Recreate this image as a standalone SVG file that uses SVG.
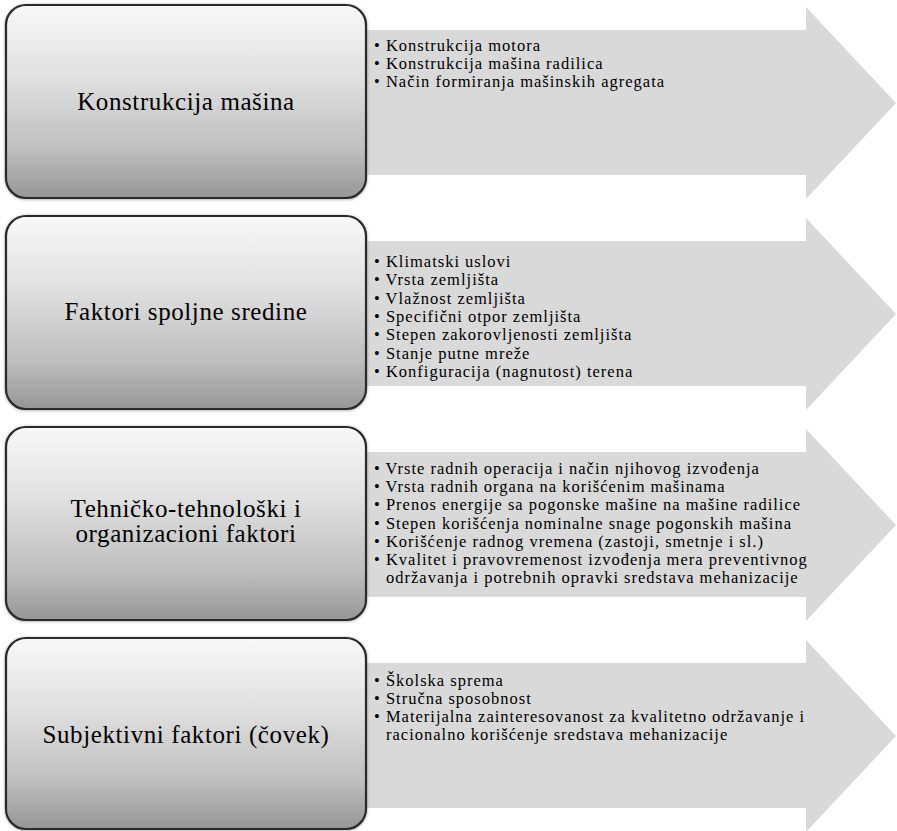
<svg xmlns="http://www.w3.org/2000/svg" width="897" height="831" viewBox="0 0 897 831">
<defs>
<linearGradient id="boxg" x1="0" y1="0" x2="0" y2="1">
<stop offset="0" stop-color="#f8f8f8"/>
<stop offset="0.35" stop-color="#e2e2e2"/>
<stop offset="0.75" stop-color="#bebebe"/>
<stop offset="1" stop-color="#969696"/>
</linearGradient>
<filter id="sh" x="-5%" y="-5%" width="110%" height="110%">
<feDropShadow dx="0" dy="0.5" stdDeviation="1.5" flood-color="#000" flood-opacity="0.35"/>
</filter>
</defs>
<style>
.arrow{fill:#d9d9d9;stroke:none}
.box{fill:url(#boxg);stroke:#2a2a2a;stroke-width:2.2;filter:url(#sh)}
.lbl{font-family:"Liberation Serif","Times New Roman",serif;font-size:25px;letter-spacing:0.6px;fill:#000;text-anchor:middle}
.itm{font-family:"Liberation Serif","Times New Roman",serif;font-size:16.5px;letter-spacing:1px;fill:#000}
</style>
<rect width="897" height="831" fill="#fff"/>

<g id="list1">
<polygon class="arrow" points="350,30 806,30 806,7 896,103 806,199 806,175 350,175"/>
<text class="itm" x="374" y="51">• Konstrukcija motora</text>
<text class="itm" x="374" y="69">• Konstrukcija mašina radilica</text>
<text class="itm" x="374" y="87">• Način formiranja mašinskih agregata</text>
</g>
<g id="node1">
<rect class="box" x="6" y="5" width="360" height="193" rx="20"/>
<text class="lbl" x="186" y="110">Konstrukcija mašina</text>
</g>

<g id="list2">
<polygon class="arrow" points="350,241 806,241 806,218 896,314 806,410 806,386 350,386"/>
<text class="itm" x="374" y="267">• Klimatski uslovi</text>
<text class="itm" x="374" y="285.3">• Vrsta zemljišta</text>
<text class="itm" x="374" y="303.6">• Vlažnost zemljišta</text>
<text class="itm" x="374" y="321.9">• Specifični otpor zemljišta</text>
<text class="itm" x="374" y="340.2">• Stepen zakorovljenosti zemljišta</text>
<text class="itm" x="374" y="358.5">• Stanje putne mreže</text>
<text class="itm" x="374" y="376.8">• Konfiguracija (nagnutost) terena</text>
</g>
<g id="node2">
<rect class="box" x="6" y="216" width="360" height="193" rx="20"/>
<text class="lbl" x="186" y="320">Faktori spoljne sredine</text>
</g>

<g id="list3">
<polygon class="arrow" points="350,452 806,452 806,429 896,525 806,621 806,597 350,597"/>
<text class="itm" x="374" y="474">• Vrste radnih operacija i način njihovog izvođenja</text>
<text class="itm" x="374" y="492.2">• Vrsta radnih organa na korišćenim mašinama</text>
<text class="itm" x="374" y="510.4">• Prenos energije sa pogonske mašine na mašine radilice</text>
<text class="itm" x="374" y="528.6">• Stepen korišćenja nominalne snage pogonskih mašina</text>
<text class="itm" x="374" y="546.8">• Korišćenje radnog vremena (zastoji, smetnje i sl.)</text>
<text class="itm" x="374" y="565">• Kvalitet i pravovremenost izvođenja mera preventivnog</text>
<text class="itm" x="386" y="582.5">održavanja i potrebnih opravki sredstava mehanizacije</text>
</g>
<g id="node3">
<rect class="box" x="6" y="427" width="360" height="193" rx="20"/>
<text class="lbl" x="186" y="517">Tehničko-tehnološki i</text>
<text class="lbl" x="186" y="542">organizacioni faktori</text>
</g>

<g id="list4">
<polygon class="arrow" points="350,663 806,663 806,640 896,736 806,832 806,808 350,808"/>
<text class="itm" x="374" y="686">• Školska sprema</text>
<text class="itm" x="374" y="704.2">• Stručna sposobnost</text>
<text class="itm" x="374" y="722.4">• Materijalna zainteresovanost za kvalitetno održavanje i</text>
<text class="itm" x="386" y="739.9">racionalno korišćenje sredstava mehanizacije</text>
</g>
<g id="node4">
<rect class="box" x="6" y="638" width="360" height="191" rx="20"/>
<text class="lbl" x="186" y="743">Subjektivni faktori (čovek)</text>
</g>

<g id="connectors"></g>
</svg>
